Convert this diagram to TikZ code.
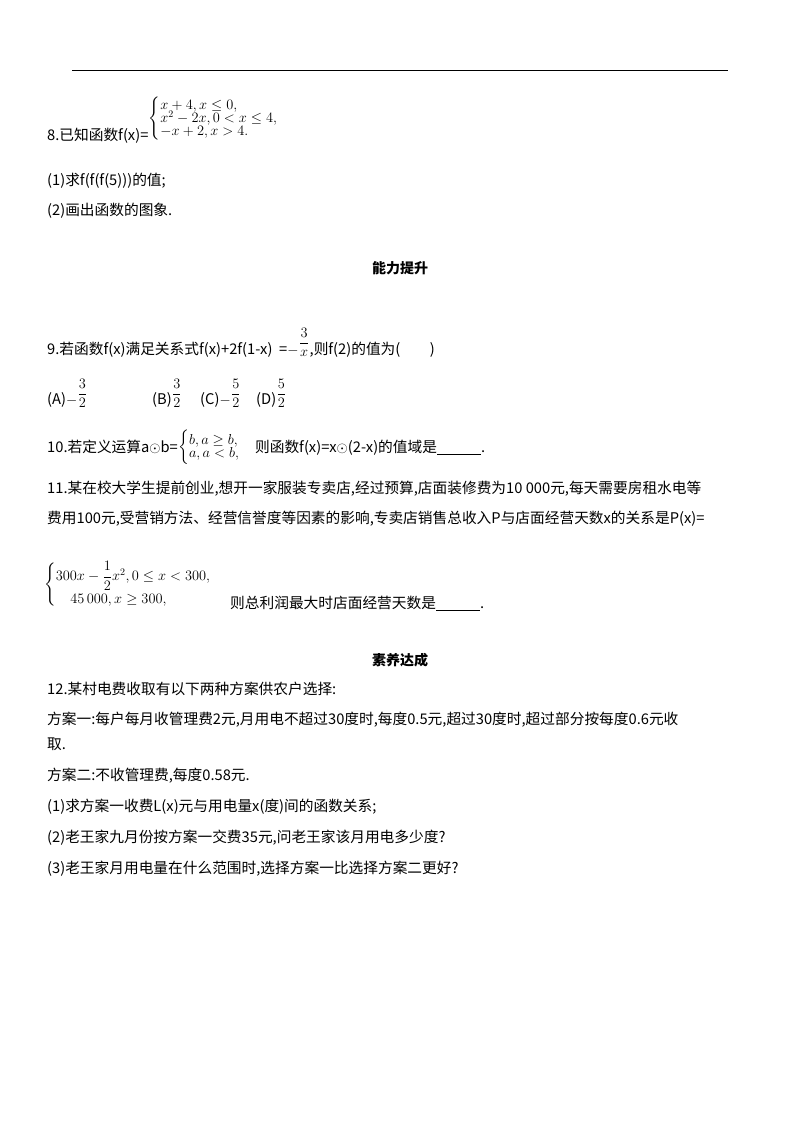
\documentclass[tikz,border=0pt]{standalone}
\usepackage{fontspec}
\usepackage{amsmath}
\setmainfont{Liberation Serif}
\newfontfamily\cjk{Noto Sans CJK SC}
\begin{document}
\begin{tikzpicture}[x=1pt,y=-1pt,
  t/.style={anchor=base west,inner sep=0pt,font=\fontsize{14.7}{16}\selectfont\cjk},
  h/.style={anchor=base,inner sep=0pt,font=\fontsize{14}{16}\selectfont\cjk\bfseries},
  m/.style={anchor=base west,inner sep=0pt,font=\fontsize{14.5}{15}\selectfont}]
\useasboundingbox (0,0) rectangle (800,1132);
\draw[line width=1pt] (72,71) coordinate (l1) -- (728,71) coordinate (l2);
\node[t] (q8) at (47,140) {8.已知函数f(x)=};
\node[m,anchor=west] (p8) at (q8.east |- 0,119) {$\begin{cases}x+4,x\le 0,\\[-5pt] x^2-2x,0<x\le 4,\\[-5pt] -x+2,x>4.\end{cases}$};
\node[t] (a1) at (47,185) {(1)求f(f(f(5)))的值;};
\node[t] (a2) at (47,215) {(2)画出函数的图象.};
\node[h] (s1) at (400,273) {能力提升};
\node[t] (q9) at (47,354) {9.若函数f(x)满足关系式f(x)+2f(1-x)\ \ =$-$};
\node[m,anchor=base west] (f9) at ([yshift=7pt]q9.base east) {$\dfrac{3}{x}$};
\node[t] (q9b) at (q9.base -| f9.east) {,则f(2)的值为(\qquad)};
\node[t] (oa) at (47,404) {(A)$-$};
\node[m] (fa) at ([yshift=6pt]oa.base east) {$\dfrac32$};
\node[t] (ob) at (152,404) {(B)};
\node[m] (fb) at ([yshift=6pt]ob.base east) {$\dfrac32$};
\node[t] (oc) at (200,404) {(C)$-$};
\node[m] (fc) at ([yshift=6pt]oc.base east) {$\dfrac52$};
\node[t] (od) at (256,404) {(D)};
\node[m] (fd) at ([yshift=6pt]od.base east) {$\dfrac52$};
\node[t] (q10) at (47,452) {10.若定义运算a$\odot$b=};
\node[m,anchor=west] (p10) at ([yshift=5pt]q10.base east) {$\begin{cases}b,a\ge b,\\[-5pt] a,a<b,\end{cases}$};
\node[t] (q10b) at (q10.base -| p10.east) {则函数f(x)=x$\odot$(2-x)的值域是\underline{\hspace{3em}}.};
\node[t] (q11) at (47,493) {11.某在校大学生提前创业,想开一家服装专卖店,经过预算,店面装修费为10 000元,每天需要房租水电等};
\node[t] (q11b) at (47,523) {费用100元,受营销方法、经营信誉度等因素的影响,专卖店销售总收入P与店面经营天数x的关系是P(x)=};
\node[m,anchor=west] (p11) at (44,585) {$\begin{cases}300x-\dfrac12x^2,0\le x<300,\\[2pt] \quad 45\,000,x\ge 300,\end{cases}$};
\node[t] (q11c) at (230,608) {则总利润最大时店面经营天数是\underline{\hspace{3em}}.};
\node[h] (s2) at (400,665) {素养达成};
\node[t] (q12) at (47,694) {12.某村电费收取有以下两种方案供农户选择:};
\node[t] (r1) at (47,724) {方案一:每户每月收管理费2元,月用电不超过30度时,每度0.5元,超过30度时,超过部分按每度0.6元收};
\node[t] (r2) at (47,749) {取.};
\node[t] (r3) at (47,780) {方案二:不收管理费,每度0.58元.};
\node[t] (r4) at (47,811) {(1)求方案一收费L(x)元与用电量x(度)间的函数关系;};
\node[t] (r5) at (47,842) {(2)老王家九月份按方案一交费35元,问老王家该月用电多少度?};
\node[t] (r6) at (47,873) {(3)老王家月用电量在什么范围时,选择方案一比选择方案二更好?};
\end{tikzpicture}
\end{document}
